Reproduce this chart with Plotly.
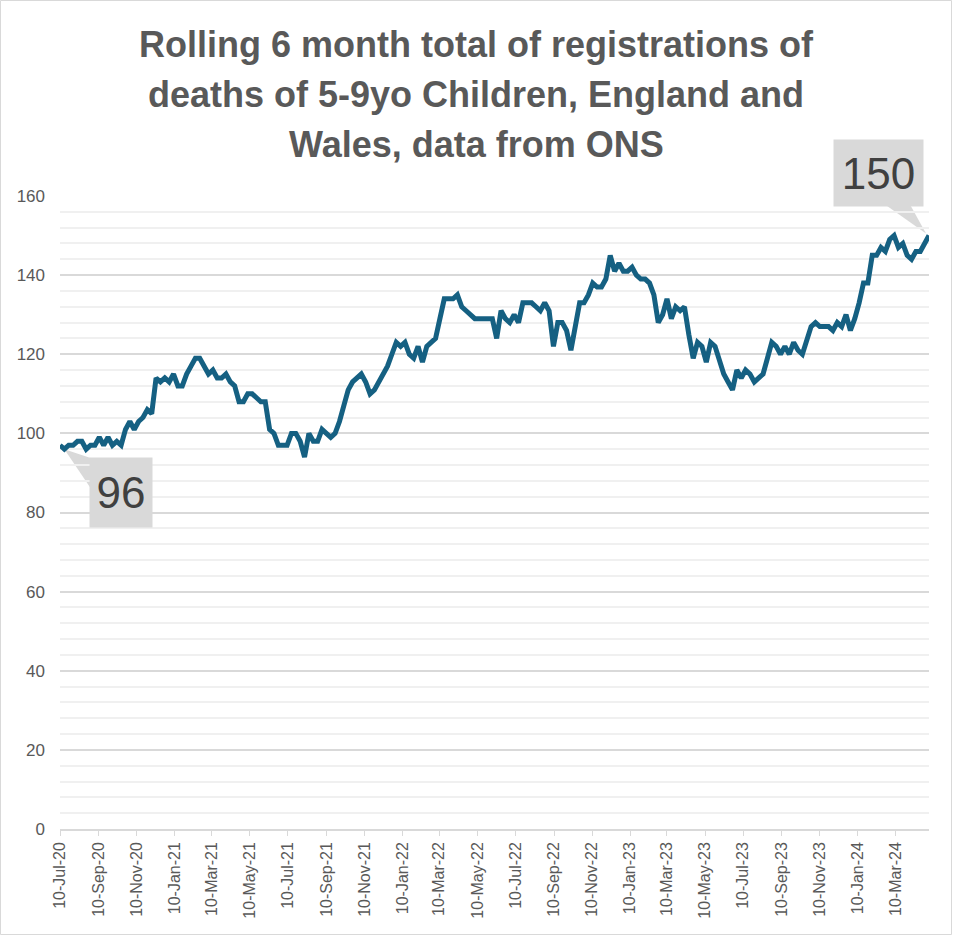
import pandas as pd
import plotly.graph_objects as go

# Weekly rolling 6-month totals, starting 10-Jul-2020
start_date = "2020-07-10"
values = [
    97, 96, 97, 97, 98, 98, 96, 97, 97, 99,
    97, 99, 97, 98, 97, 101, 103, 101, 103, 104,
    106, 105, 114, 113, 114, 113, 115, 112, 112, 115,
    117, 119, 119, 117, 115, 116, 114, 114, 115, 113,
    112, 108, 108, 110, 110, 109, 108, 108, 101, 100,
    97, 97, 97, 100, 100, 98, 94, 100, 98, 98,
    101, 100, 99, 100, 103, 107, 111, 113, 114, 115,
    113, 110, 111, 113, 115, 117, 120, 123, 122, 123,
    120, 119, 122, 118, 122, 123, 124, 129, 134, 134,
    134, 135, 132, 131, 130, 129, 129, 129, 129, 129,
    124, 131, 129, 128, 130, 128, 133, 133, 133, 132,
    131, 133, 131, 122, 128, 128, 126, 121, 128, 133,
    133, 135, 138, 137, 137, 139, 145, 141, 143, 141,
    141, 142, 140, 139, 139, 138, 135, 128, 130, 134,
    129, 132, 131, 132, 125, 119, 123, 122, 118, 123,
    122, 118, 115, 113, 111, 116, 114, 116, 115, 113,
    114, 115, 119, 123, 122, 120, 122, 120, 123, 121,
    120, 124, 127, 128, 127, 127, 127, 126, 128, 127,
    130, 126, 129, 133, 138, 138, 145, 145, 147, 146,
    149, 150, 147, 148, 145, 144, 146, 146, 148, 150,
]
dates = pd.date_range(start_date, periods=len(values), freq="7D")

tick_dates = pd.date_range("2020-07-01", "2024-03-01", freq="2MS") + pd.Timedelta(days=9)
tick_text = [d.strftime("%d-%b-%y") for d in tick_dates]
y_ticks = list(range(0, 161, 20))

title_lines = [
    "Rolling 6 month total of registrations of",
    "deaths of 5-9yo Children, England and",
    "Wales, data from ONS",
]

label_low_idx = 1
label_high_idx = len(values) - 1

W, H = 953, 936
ML, MR, MT, MB = 60, 24, 196, 107
PW, PH = W - ML - MR, H - MT - MB

LINE = "#156082"
GREY_TXT = "#595959"

fig = go.Figure()
fig.add_trace(go.Scatter(
    x=dates, y=values, mode="lines",
    line=dict(color=LINE, width=5, shape="linear"),
    hoverinfo="x+y", showlegend=False,
))

# callout wedges (pixel offsets relative to the labelled points)
fig.add_shape(type="path", xref="x", yref="y", xsizemode="pixel", ysizemode="pixel",
              xanchor=dates[label_low_idx], yanchor=values[label_low_idx],
              path="M 0 0 L 27 -9 L 27 -40 Z", fillcolor="#d9d9d9", line=dict(width=0),
              layer="below")
fig.add_shape(type="path", xref="x", yref="y", xsizemode="pixel", ysizemode="pixel",
              xanchor=dates[label_high_idx], yanchor=values[label_high_idx],
              path="M -3 2 L -44 31 L -19 31 Z", fillcolor="#d9d9d9", line=dict(width=0),
              layer="below")

fig.add_annotation(x=dates[label_low_idx], y=values[label_low_idx], xref="x", yref="y",
                   text=str(values[label_low_idx]), showarrow=False,
                   xshift=57, yshift=-43.5, width=62, height=69, borderpad=0,
                   bgcolor="#d9d9d9", font=dict(family="Liberation Sans", size=44, color="#404040"))
fig.add_annotation(x=dates[label_high_idx], y=values[label_high_idx], xref="x", yref="y",
                   text=str(values[label_high_idx]), showarrow=False,
                   xshift=-51, yshift=63, width=89, height=66, borderpad=0,
                   bgcolor="#d9d9d9", font=dict(family="Liberation Sans", size=44, color="#404040"))

# title lines
for line_txt, ypix in zip(title_lines, [45, 95, 145]):
    fig.add_annotation(xref="paper", yref="paper", x=(476 - ML) / PW, y=(H - MB - ypix) / PH,
                       text=f"<b>{line_txt}</b>", showarrow=False, xanchor="center", yanchor="middle",
                       font=dict(family="Liberation Sans", size=36, color=GREY_TXT))

# outer chart border
fig.add_shape(type="rect", xref="paper", yref="paper",
              x0=(-ML + 0.5) / PW, x1=(PW + MR - 1.5) / PW,
              y0=(-MB + 1.5) / PH, y1=(PH + MT - 0.5) / PH,
              line=dict(color="#d9d9d9", width=1), fillcolor="rgba(0,0,0,0)")

fig.update_layout(
    width=W, height=H, margin=dict(l=ML, r=MR, t=MT, b=MB),
    paper_bgcolor="white", plot_bgcolor="white",
    font=dict(family="Liberation Sans", color=GREY_TXT),
    xaxis=dict(
        type="date", range=[dates[0], dates[-1]],
        tickmode="array", tickvals=tick_dates, ticktext=tick_text, tickangle=-90,
        ticks="outside", ticklen=5, tickcolor="#d9d9d9", tickwidth=1,
        showline=True, linecolor="#d9d9d9", linewidth=1.5,
        showgrid=False, zeroline=False,
        tickfont=dict(size=16, color=GREY_TXT),
    ),
    yaxis=dict(
        range=[0, 160], tickmode="array", tickvals=y_ticks,
        showgrid=True, gridcolor="#d9d9d9", gridwidth=1.5,
        minor=dict(dtick=4, showgrid=True, gridcolor="#f0f0f0", gridwidth=1.5),
        zeroline=False, showline=False, ticks="",
        ticklabelstandoff=14,
        tickfont=dict(size=17, color=GREY_TXT),
    ),
)

fig.write_html("out.html", config={"displayModeBar": False},
               post_script="document.body.style.margin='0';document.body.style.overflow='hidden';")
